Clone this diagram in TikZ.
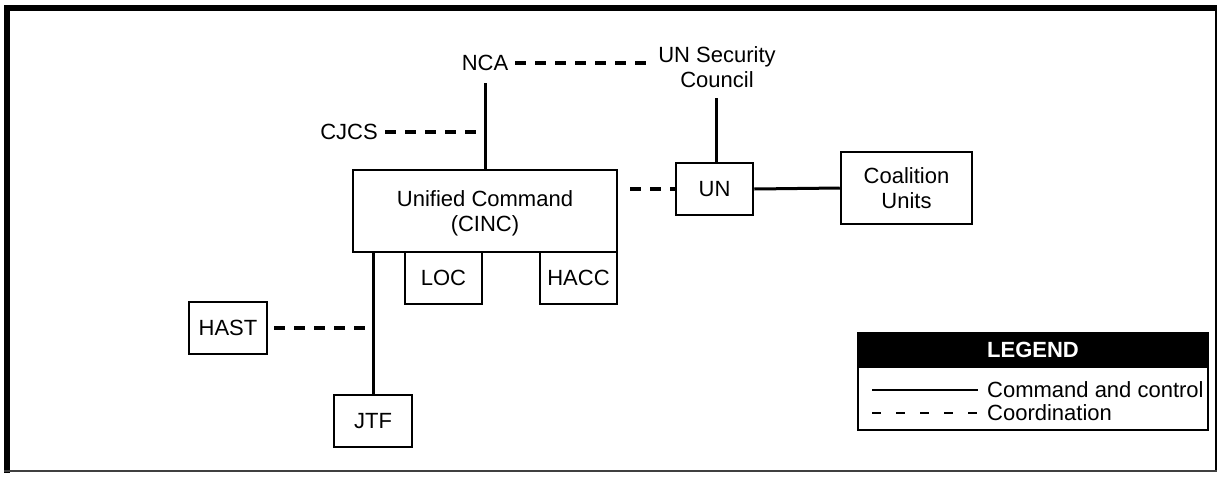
\documentclass[tikz,border=0pt]{standalone}
\usepackage{fontspec}
\setmainfont{Liberation Sans}
\begin{document}
\begin{tikzpicture}[x=1pt,y=-1pt,
  every node/.style={font=\fontsize{22}{25}\selectfont},
  box/.style={draw,line width=2.5pt,inner sep=0pt,align=center},
  cmd/.style={line width=3pt},
  coord/.style={line width=3.5pt,dash pattern=on 11pt off 9pt},
  lbl/.style={inner sep=0pt,align=center}]
\useasboundingbox (0,0) rectangle (1219,480);
% frame
\draw[line width=6pt] (4,8) -- (1217,8);
\draw[line width=6pt] (7,5) -- (7,473);
\draw[line width=2pt] (1216,5) -- (1216,472);
\draw[line width=1.5pt,black!75] (4,471) -- (1217,471);
% nodes
\node[lbl] (nca) at (485,63) {NCA};
\node[lbl] (usc) at (717,67) {UN Security\\Council};
\node[lbl,anchor=east] (cjcs) at (378,132) {CJCS};
\node[box,minimum width=264pt,minimum height=82pt,text depth=0pt] (uc) at (485,211) {Unified Command\\(CINC)};
\node[box,minimum width=77pt,minimum height=52pt] (un) at (714.5,189) {UN};
\node[box,minimum width=131pt,minimum height=72pt] (coal) at (906.5,188) {Coalition\\Units};
\node[box,minimum width=77pt,minimum height=52pt] (loc) at (443.5,278) {LOC};
\node[box,minimum width=77pt,minimum height=52pt] (hacc) at (578.5,278) {HACC};
\node[box,minimum width=78pt,minimum height=52pt] (hast) at (228,328) {HAST};
\node[box,minimum width=78pt,minimum height=52pt] (jtf) at (373,421) {JTF};
\coordinate (ncab) at (485,83);
\coordinate (uscb) at (716,98);
% connectors
\draw[cmd] (ncab) -- (uc.north);
\draw[coord] ([xshift=7pt]nca.east) -- ([xshift=-10pt]nca.east -| usc.west);
\draw[coord] ([xshift=7pt]cjcs.east) -- (cjcs.east -| ncab);
\draw[cmd] (uscb) -- (uscb |- un.north);
\draw[coord] ([xshift=12pt]uc.east |- un.west) -- (un.west);
\draw[cmd] (un.east) -- (coal.west);
\draw[cmd] (jtf.north |- uc.south) -- (jtf.north);
\draw[coord] ([xshift=6pt]hast.east) -- (hast.east -| jtf.north);
% legend
\node[draw,line width=1.2pt,minimum width=350pt,minimum height=97pt,inner sep=0pt] (leg) at (1033,381.5) {};
\node[fill=black,minimum width=350pt,minimum height=35pt,inner sep=0pt,anchor=north] (legh) at (leg.north) {};
\node[text=white,font=\fontsize{22}{25}\selectfont\bfseries] (legt) at (legh.center) {LEGEND};
\node[lbl,anchor=west] (lc) at (987,390) {Command and control};
\node[lbl,anchor=west] (lo) at (987,413) {Coordination};
\draw[line width=1.5pt] ([xshift=-115pt]lc.west) -- ([xshift=-9pt]lc.west);
\draw[line width=2pt,dash pattern=on 9pt off 15pt] ([xshift=-115pt]lo.west) -- ([xshift=-7pt]lo.west);
\end{tikzpicture}
\end{document}
